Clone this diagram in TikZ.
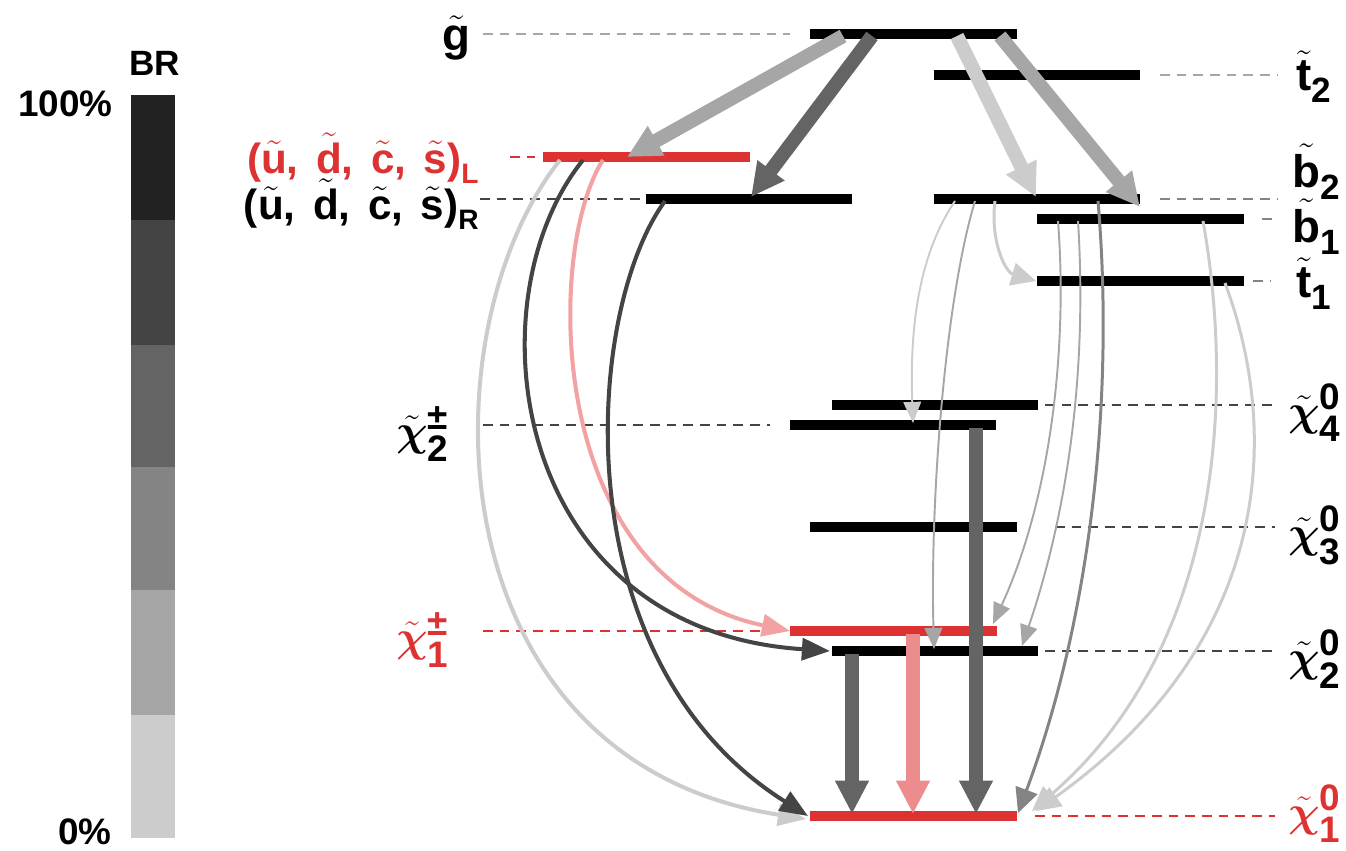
\documentclass[tikz,border=0pt]{standalone}
\usepackage{amsmath}
\usepackage{fontspec}
\setmainfont{Liberation Sans}
\usetikzlibrary{arrows.meta}
\definecolor{ca}{HTML}{CCCCCC}
\definecolor{cb}{HTML}{A6A6A6}
\definecolor{cc}{HTML}{848484}
\definecolor{cd}{HTML}{646464}
\definecolor{ce}{HTML}{444444}
\definecolor{cf}{HTML}{222222}
\definecolor{sred}{HTML}{DC3232}
\definecolor{spink}{HTML}{EC8C8C}
\definecolor{lpink}{HTML}{F2A2A2}
\newcommand\tl[1]{$\tilde{\text{#1}}$}
\newcommand\subs[3]{\raisebox{-#1}{\fontsize{#2}{#2}\selectfont\bfseries #3}}
\newcommand\chil[2]{$\tilde{\boldsymbol{\chi}}^{\text{\bfseries #1}}_{\text{\bfseries #2}}$}
\begin{document}
\begin{tikzpicture}[x=0.02cm,y=-0.02cm,
  bar/.style={line width=6.2pt},
  guide/.style={line width=0.8pt,dash pattern=on 5.5pt off 4pt,color=#1},
  tk/.style={line width=8pt,color=#1,-{Triangle[length=19pt,width=18pt]}},
  md/.style={line width=2.3pt,color=#1,-{Triangle[length=16pt,width=12.5pt]}},
  mt/.style={line width=1.7pt,color=#1,-{Triangle[length=14pt,width=13pt]}},
  th/.style={line width=1.1pt,color=#1,-{Triangle[length=12pt,width=10pt]}},
  lab/.style={anchor=base west,inner sep=0pt,font=\fontsize{26}{28}\selectfont\bfseries},
  chilab/.style={anchor=base west,inner sep=0pt,font=\fontsize{30}{32}\selectfont},
  brt/.style={inner sep=0pt,font=\fontsize{21}{23}\selectfont\bfseries}]
\useasboundingbox (0,0) rectangle (1346,850);
% colour bar
\fill[cf] (131,95) rectangle (175,220);
\fill[ce] (131,220) rectangle (175,345);
\fill[cd] (131,345) rectangle (175,467);
\fill[cc] (131,467) rectangle (175,590);
\fill[cb] (131,590) rectangle (175,715);
\fill[ca] (131,715) rectangle (175,838);
\node[brt,font=\fontsize{20}{22}\selectfont\bfseries] (brlab) at (155,63) {BR};
\node[brt,anchor=east] (top) at (113,104) {100\%};
\node[brt,anchor=east] (bot) at (112,832) {0\%};
% level coordinates
\coordinate (gl-l) at (810,34);  \coordinate (gl-r) at (1017,34);
\coordinate (t2-l) at (934,75);  \coordinate (t2-r) at (1140,75);
\coordinate (qL-l) at (543,157); \coordinate (qL-r) at (750,157);
\coordinate (qR-l) at (646,199); \coordinate (qR-r) at (852,199);
\coordinate (b2-l) at (934,199); \coordinate (b2-r) at (1140,199);
\coordinate (b1-l) at (1037,219);\coordinate (b1-r) at (1244,219);
\coordinate (t1-l) at (1037,281);\coordinate (t1-r) at (1244,281);
\coordinate (n4-l) at (832,405); \coordinate (n4-r) at (1038,405);
\coordinate (c2-l) at (790,425); \coordinate (c2-r) at (996,425);
\coordinate (n3-l) at (810,527); \coordinate (n3-r) at (1017,527);
\coordinate (c1-l) at (790,631); \coordinate (c1-r) at (997,631);
\coordinate (n2-l) at (832,651); \coordinate (n2-r) at (1038,651);
\coordinate (n1-l) at (810,816); \coordinate (n1-r) at (1017,816);
% guides
\draw[guide=cb] (483,34) -- (790,34);
\draw[guide=cb] (1160,75) -- (1278,75);
\draw[guide=sred] (510,157) -- (535,157);
\draw[guide=ce] (480,199) -- (640,199);
\draw[guide=cc] (1160,199) -- (1278,199);
\draw[guide=cc] (1262,219) -- (1278,219);
\draw[guide=cc] (1253,281) -- (1270,281);
\draw[guide=ce] (1045,405) -- (1275,405);
\draw[guide=ce] (483,425) -- (770,425);
\draw[guide=ce] (1055,527) -- (1275,527);
\draw[guide=sred] (483,631) -- (780,631);
\draw[guide=ce] (1045,651) -- (1275,651);
\draw[guide=sred] (1035,816) -- (1275,816);
% bars
\draw[bar] (gl-l) -- (gl-r);
\draw[bar] (t2-l) -- (t2-r);
\draw[bar,sred] (qL-l) -- (qL-r);
\draw[bar] (qR-l) -- (qR-r);
\draw[bar] (b2-l) -- (b2-r);
\draw[bar] (b1-l) -- (b1-r);
\draw[bar] (t1-l) -- (t1-r);
\draw[bar] (n4-l) -- (n4-r);
\draw[bar] (c2-l) -- (c2-r);
\draw[bar] (n3-l) -- (n3-r);
\draw[bar,sred] (c1-l) -- (c1-r);
\draw[bar] (n2-l) -- (n2-r);
\draw[bar,sred] (n1-l) -- (n1-r);
% labels
\node[lab] (lg) at (442,50) {\tl{g}};
\node[lab,anchor=base east,font=\fontsize{24}{26}\selectfont\bfseries,text=sred] (lqL) at (479,173)
  {(\tl{u},\hspace{10pt}\tl{d},\hspace{10pt}\tl{c},\hspace{10pt}\tl{s})\subs{6pt}{16}{L}};
\node[lab,anchor=base east,font=\fontsize{24}{26}\selectfont\bfseries] (lqR) at (479,219)
  {(\tl{u},\hspace{10pt}\tl{d},\hspace{10pt}\tl{c},\hspace{10pt}\tl{s})\subs{6pt}{16}{R}};
\node[lab] (lt2) at (1296,90) {\tl{t}\subs{7pt}{20}{2}};
\node[lab] (lb2) at (1292,187) {\tl{b}\subs{7pt}{20}{2}};
\node[lab] (lb1) at (1292,242) {\tl{b}\subs{7pt}{20}{1}};
\node[lab] (lt1) at (1296,297) {\tl{t}\subs{7pt}{20}{1}};
\node[chilab] (ln4) at (1288,425) {\chil{0}{4}};
\node[chilab] (ln3) at (1288,547) {\chil{0}{3}};
\node[chilab] (ln2) at (1288,671) {\chil{0}{2}};
\node[chilab,text=sred] (ln1) at (1288,826) {\chil{0}{1}};
\node[chilab] (lc2) at (396,445) {\chil{±}{2}};
\node[chilab,text=sred] (lc1) at (396,651) {\chil{±}{1}};
% arrow end points
\coordinate (a1s) at (843,36);  \coordinate (a1e) at (627,157);
\coordinate (a2s) at (872,36);  \coordinate (a2e) at (751,197);
\coordinate (a3s) at (957,36);  \coordinate (a3e) at (1036,197);
\coordinate (a4s) at (1000,36); \coordinate (a4e) at (1140,207);
\coordinate (a5s) at (560,160); \coordinate (a5e) at (806,819);
\coordinate (a6s) at (583,160); \coordinate (a6e) at (830,651);
\coordinate (a7s) at (603,160); \coordinate (a7e) at (790,631);
\coordinate (a8s) at (665,201); \coordinate (a8e) at (808,816);
\coordinate (a9s) at (955,201); \coordinate (a9e) at (913,423);
\coordinate (a10s) at (975,201); \coordinate (a10e) at (934,649);
\coordinate (a11s) at (995,201); \coordinate (a11e) at (1036,281);
\coordinate (a12s) at (1098,201); \coordinate (a12e) at (1018,813);
\coordinate (a13s) at (1058,221); \coordinate (a13e) at (993,624);
\coordinate (a14s) at (1078,221); \coordinate (a14e) at (1022,646);
\coordinate (a15s) at (1203,221); \coordinate (a15e) at (1032,811);
\coordinate (a16s) at (1225,283); \coordinate (a16e) at (1036,811);
\coordinate (v1s) at (852,654); \coordinate (v1e) at (852,814);
\coordinate (v2s) at (913,634); \coordinate (v2e) at (913,814);
\coordinate (v3s) at (976,428); \coordinate (v3e) at (976,814);
% curved decays
\draw[md=ca] (a5s) .. controls (425,330) and (430,760) .. (a5e);
\draw[md=ce] (a6s) .. controls (470,300) and (510,630) .. (a6e);
\draw[md=lpink] (a7s) .. controls (545,250) and (545,580) .. (a7e);
\draw[md=ce] (a8s) .. controls (585,310) and (560,660) .. (a8e);
\draw[th=ca] (a9s) .. controls (915,260) and (910,340) .. (a9e);
\draw[th=cb] (a10s) .. controls (945,300) and (930,500) .. (a10e);
\draw[mt=ca] (a11s) .. controls (990,240) and (1005,272) .. (a11e);
\draw[th=cb] (a13s) .. controls (1068,350) and (1050,500) .. (a13e);
\draw[th=cb] (a14s) .. controls (1088,380) and (1065,520) .. (a14e);
\draw[mt=ca] (a16s) .. controls (1280,430) and (1275,640) .. (a16e);
\draw[mt=ca] (a15s) .. controls (1235,400) and (1220,650) .. (a15e);
\draw[mt=cc] (a12s) .. controls (1115,400) and (1090,620) .. (a12e);
% thick decays
\draw[tk=cb] (a1s) -- (a1e);
\draw[tk=cd] (a2s) -- (a2e);
\draw[tk=ca] (a3s) -- (a3e);
\draw[tk=cb] (a4s) -- (a4e);
\draw[tk=cd] (v1s) -- (v1e);
\draw[tk=spink] (v2s) -- (v2e);
\draw[tk=cd] (v3s) -- (v3e);
\end{tikzpicture}
\end{document}
